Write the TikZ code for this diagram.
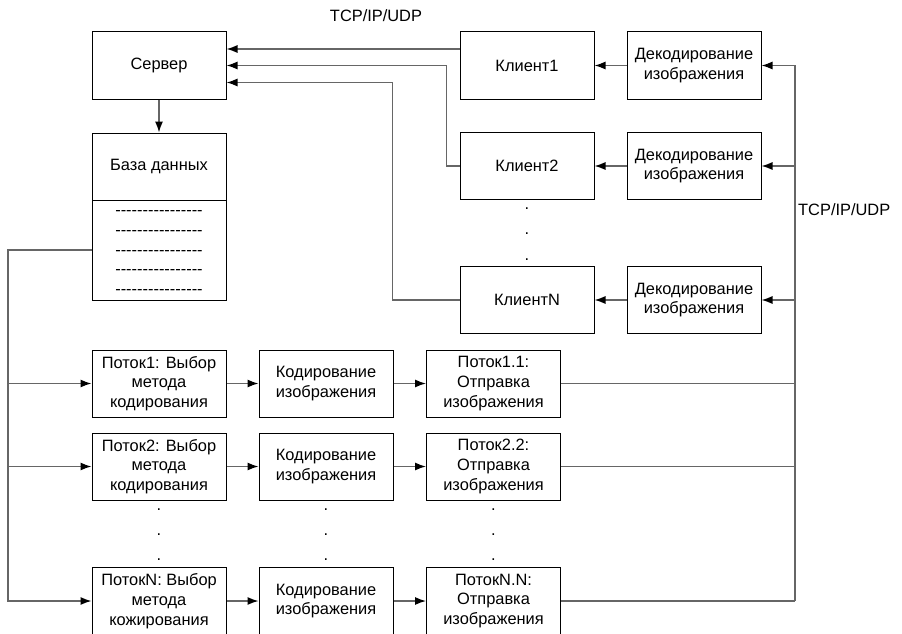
\documentclass[tikz,border=0pt]{standalone}
\usepackage{fontspec}
\setmainfont{Liberation Sans}
\usepackage{tikz}
\usetikzlibrary{positioning,calc,arrows.meta}

\newcommand{\dashline}{-{}-{}-{}-{}-{}-{}-{}-{}-{}-{}-{}-{}-{}-{}-{}-}

\begin{document}
\begin{tikzpicture}[x=1pt,y=-1pt]
        \tikzstyle{txt}=[font=\fontsize{16.4}{19.8}\selectfont]
        \tikzstyle{box}=[txt, draw=black, line width=1pt, inner sep=0pt, minimum width=134pt, minimum height=67pt, align=center]
        \tikzstyle{line}=[draw=black!60, line width=1.3pt]
        \tikzstyle{arr}=[line, -{Latex[length=11pt,width=8pt,color=black]}]
        \tikzstyle{dot}=[txt, anchor=base, inner sep=0pt]

        \useasboundingbox (0,0) rectangle (902,634);

        \node[txt] (tcptop) at (376,16) {TCP/IP/UDP};
        \node[txt, anchor=west, inner sep=0pt] (tcpright) at (798,210) {TCP/IP/UDP};

        \node[box] (srv) at (159,65.5) {Сервер};
        \node[box, minimum height=167pt] (db) at (159,216.5) {};
        \node[txt] (dbhead) at (159,166.5) {База данных};
        \draw[line width=1pt] (92,200) -- (226,200);
        \node[txt, align=center, inner sep=0pt] (dbrows) at (159,252.5) {\dashline\\\dashline\\\dashline\\\dashline\\\dashline};

        \node[box] (cl1) at (527,65.5) {Клиент1};
        \node[box] (cl2) at (527,166) {Клиент2};
        \node[box] (cln) at (527,300) {КлиентN};
        \node[box] (dc1) at (694,65.5) {Декодирование\\изображения};
        \node[box] (dc2) at (694,166) {Декодирование\\изображения};
        \node[box] (dcn) at (694,300) {Декодирование\\изображения};

        \node[dot] (cdot1) at (527,209.5) {.};
        \node[dot] (cdot2) at (527,234.5) {.};
        \node[dot] (cdot3) at (527,260.5) {.};

        \node[box] (sel1) at (159,383.5) {Поток1: Выбор\\метода\\кодирования};
        \node[box] (enc1) at (326,383.5) {Кодирование\\изображения};
        \node[box] (snd1) at (493.5,383.5) {Поток1.1:\\Отправка\\изображения};
        \node[box] (sel2) at (159,466.5) {Поток2: Выбор\\метода\\кодирования};
        \node[box] (enc2) at (326,466.5) {Кодирование\\изображения};
        \node[box] (snd2) at (493.5,466.5) {Поток2.2:\\Отправка\\изображения};
        \node[box] (seln) at (159,601) {ПотокN: Выбор\\метода\\кожирования};
        \node[box] (encn) at (326,601) {Кодирование\\изображения};
        \node[box] (sndn) at (493.5,601) {ПотокN.N:\\Отправка\\изображения};

        \node[dot] (sdot1) at (159,510.5) {.};
        \node[dot] (sdot2) at (159,535.5) {.};
        \node[dot] (sdot3) at (159,560.5) {.};
        \node[dot] (edot1) at (326,510.5) {.};
        \node[dot] (edot2) at (326,535.5) {.};
        \node[dot] (edot3) at (326,560.5) {.};
        \node[dot] (ndot1) at (493.5,510.5) {.};
        \node[dot] (ndot2) at (493.5,535.5) {.};
        \node[dot] (ndot3) at (493.5,560.5) {.};

        \coordinate (dbout) at (92,250);
        \coordinate (lbus) at (8,250);
        \coordinate (rbus) at (795,65.5);

        \draw[arr] (srv) -- (db);
        \draw[arr] ([yshift=16.5pt]cl1.west) -- ([yshift=16.5pt]srv.east);
        \draw[arr] (cl2.west) -- ++(-13,0) |- (srv.east);
        \draw[arr] (cln.west) -- ++(-67,0) |- ([yshift=-17pt]srv.east);

        \draw[arr] (dc1) -- (cl1);
        \draw[arr] (dc2) -- (cl2);
        \draw[arr] (dcn) -- (cln);

        \draw[line] (rbus) -- (rbus |- sndn);
        \draw[arr] (rbus) -- (dc1);
        \draw[arr] (rbus |- dc2) -- (dc2);
        \draw[arr] (rbus |- dcn) -- (dcn);
        \draw[line] (snd1) -- (snd1 -| rbus);
        \draw[line] (snd2) -- (snd2 -| rbus);
        \draw[line] (sndn) -- (sndn -| rbus);

        \draw[arr] (dbout) -- (lbus) |- (seln);
        \draw[arr] (lbus |- sel1) -- (sel1);
        \draw[arr] (lbus |- sel2) -- (sel2);

        \draw[arr] (sel1) -- (enc1);
        \draw[arr] (enc1) -- (snd1);
        \draw[arr] (sel2) -- (enc2);
        \draw[arr] (enc2) -- (snd2);
        \draw[arr] (seln) -- (encn);
        \draw[arr] (encn) -- (sndn);
    \end{tikzpicture}
\end{document}
